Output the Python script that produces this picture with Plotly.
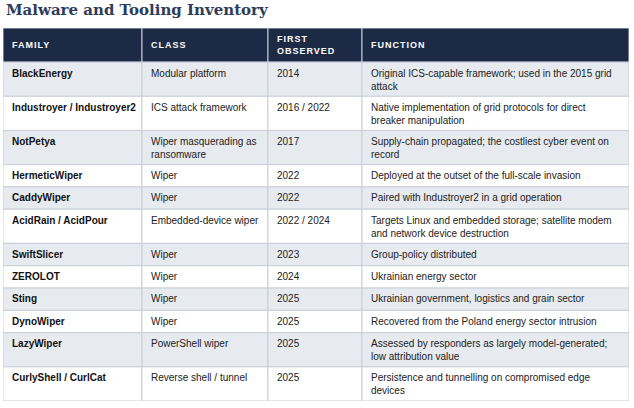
import plotly.graph_objects as go

# table content
headers = ["FAMILY", "CLASS", "FIRST<br>OBSERVED", "FUNCTION"]

family = ["BlackEnergy", "Industroyer / Industroyer2", "NotPetya", "HermeticWiper",
          "CaddyWiper", "AcidRain / AcidPour", "SwiftSlicer", "ZEROLOT", "Sting",
          "DynoWiper", "LazyWiper", "CurlyShell / CurlCat"]

mal_class = ["Modular platform", "ICS attack framework", "Wiper masquerading as<br>ransomware",
             "Wiper", "Wiper", "Embedded-device wiper", "Wiper", "Wiper", "Wiper", "Wiper",
             "PowerShell wiper", "Reverse shell / tunnel"]

first_seen = ["2014", "2016 / 2022", "2017", "2022", "2022", "2022 / 2024", "2023", "2024",
              "2025", "2025", "2025", "2025"]

function = ["Original ICS-capable framework; used in the 2015 grid<br>attack",
            "Native implementation of grid protocols for direct<br>breaker manipulation",
            "Supply-chain propagated; the costliest cyber event on<br>record",
            "Deployed at the outset of the full-scale invasion",
            "Paired with Industroyer2 in a grid operation",
            "Targets Linux and embedded storage; satellite modem<br>and network device destruction",
            "Group-policy distributed",
            "Ukrainian energy sector",
            "Ukrainian government, logistics and grain sector",
            "Recovered from the Poland energy sector intrusion",
            "Assessed by responders as largely model-generated;<br>low attribution value",
            "Persistence and tunnelling on compromised edge<br>devices"]

col_widths = [139, 126, 94, 267]

NAVY = "#1c2a46"
GRID = "#c9ced7"
STRIPE = "#e7eaef"
TEXT = "#222222"

LINE_H = 11.8   # extra height per wrapped line
BASE_H = 22.3   # single-line row height
PAD_X = 8
PAD_Y = 4.4

columns = [family, mal_class, first_seen, function]


def n_lines(s):
    return s.count("<br>") + 1


header_h = BASE_H + LINE_H * (max(n_lines(h) for h in headers) - 1)
row_h = [BASE_H + LINE_H * (max(n_lines(c[i]) for c in columns) - 1) for i in range(len(family))]

col_left = [sum(col_widths[:j]) for j in range(len(col_widths))]
row_top = [header_h + sum(row_h[:i]) for i in range(len(row_h))]
total_w = sum(col_widths)
total_h = header_h + sum(row_h)

shapes = []
annotations = []

# header - labels centred vertically
for j, h in enumerate(headers):
    shapes.append(dict(type="rect", xref="x", yref="y", x0=col_left[j], x1=col_left[j] + col_widths[j],
                       y0=0, y1=header_h, fillcolor=NAVY, line=dict(color=GRID, width=1), layer="below"))
    label = "<br>".join('<span style="letter-spacing:1px">%s</span>' % p for p in h.split("<br>"))
    annotations.append(dict(x=col_left[j] + PAD_X, y=header_h / 2, xref="x", yref="y", text="<b>%s</b>" % label,
                            xanchor="left", yanchor="middle", align="left", showarrow=False, borderpad=0,
                            font=dict(family="Liberation Sans, Arial", size=9, color="white")))

# body - text top aligned
for i in range(len(family)):
    fill = STRIPE if i % 2 == 0 else "white"
    for j, col in enumerate(columns):
        shapes.append(dict(type="rect", xref="x", yref="y", x0=col_left[j], x1=col_left[j] + col_widths[j],
                           y0=row_top[i], y1=row_top[i] + row_h[i], fillcolor=fill,
                           line=dict(color=GRID, width=1), layer="below"))
        txt = "<b>%s</b>" % col[i] if j == 0 else col[i]
        annotations.append(dict(x=col_left[j] + PAD_X, y=row_top[i] + PAD_Y, xref="x", yref="y", text=txt,
                                xanchor="left", yanchor="top", align="left", showarrow=False, borderpad=0,
                                font=dict(family="Liberation Sans, Arial", size=10,
                                          color="#111111" if j == 0 else TEXT)))

fig = go.Figure()
fig.update_layout(
    title=dict(text="<b>Malware and Tooling Inventory</b>", x=3 / 634, xanchor="left", xref="paper",
               y=1 - 10 / 408, yanchor="middle",
               font=dict(family="DejaVu Serif, Georgia, serif", size=15, color="#2d3c5a")),
    width=634, height=408,
    margin=dict(l=3, r=5, t=28, b=408 - 28 - total_h, pad=0),
    xaxis=dict(range=[0, total_w], visible=False, fixedrange=True),
    yaxis=dict(range=[total_h, 0], visible=False, fixedrange=True),
    shapes=shapes,
    annotations=annotations,
    paper_bgcolor="white",
    plot_bgcolor="white",
    showlegend=False,
)

fig.write_html("out.html", config={"displayModeBar": False},
               post_script="document.body.style.margin='0';")
